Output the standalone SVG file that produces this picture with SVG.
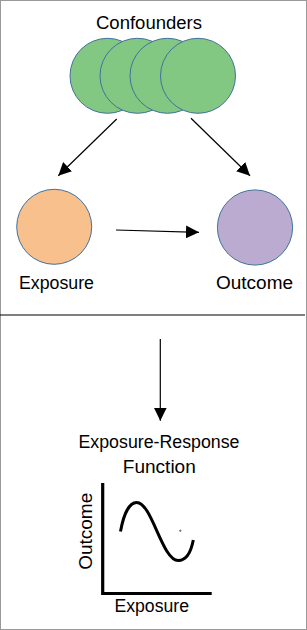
<svg xmlns="http://www.w3.org/2000/svg" width="307" height="630" viewBox="0 0 307 630">
<defs>
<style>
text{font-family:"Liberation Sans",Arial,sans-serif;font-size:18px;fill:#000;}
.node circle{stroke:#41719C;stroke-width:1;}
.conf{fill:#82C882;}
.conn line{stroke:#000;stroke-width:1.2;}
</style>
<marker id="ah" viewBox="0 0 10 10" refX="10" refY="5" markerWidth="13" markerHeight="13" markerUnits="userSpaceOnUse" orient="auto">
<path d="M0,0 L10,5 L0,10 Z" fill="#000"/>
</marker>
</defs>
<rect x="0.5" y="0.5" width="306" height="629" fill="#fff" stroke="#999" stroke-width="1"/>
<g id="confounders" class="node">
<text x="149" y="28.5" text-anchor="middle" textLength="106" lengthAdjust="spacingAndGlyphs">Confounders</text>
<circle class="conf" cx="107.5" cy="75.8" r="37.5"/>
<circle class="conf" cx="137.5" cy="75.8" r="37.5"/>
<circle class="conf" cx="167.5" cy="75.8" r="37.5"/>
<circle class="conf" cx="198" cy="75.8" r="37.5"/>
</g>
<g id="exposure" class="node">
<circle cx="54.2" cy="226.8" r="37.5" fill="#F8C08C"/>
<text x="56.5" y="288.5" text-anchor="middle" textLength="75" lengthAdjust="spacingAndGlyphs">Exposure</text>
</g>
<g id="outcome" class="node">
<circle cx="255" cy="227.5" r="37.6" fill="#BCABD1"/>
<text x="254.5" y="288.5" text-anchor="middle" textLength="77" lengthAdjust="spacingAndGlyphs">Outcome</text>
</g>
<g id="erf" class="node">
<text x="159" y="447.7" text-anchor="middle" textLength="161" lengthAdjust="spacingAndGlyphs">Exposure-Response</text>
<text x="159.3" y="473.3" text-anchor="middle" textLength="73" lengthAdjust="spacingAndGlyphs">Function</text>
<path d="M102.7,483 V593.5 H211.7" fill="none" stroke="#000" stroke-width="3.2"/>
<path d="M120.5,531.5 C124,512 130,502.5 136.7,502.5 C152,502.5 162,560.5 178.3,560.5 C186,560.5 191,552 193.3,540" fill="none" stroke="#000" stroke-width="3"/>
<circle cx="180.3" cy="530.7" r="0.7" fill="#D08A60"/>
<text transform="translate(91.5,531.3) rotate(-90)" text-anchor="middle" textLength="77" lengthAdjust="spacingAndGlyphs">Outcome</text>
<text x="151.7" y="611.7" text-anchor="middle" textLength="74.5" lengthAdjust="spacingAndGlyphs">Exposure</text>
</g>
<g id="connectors" class="conn">
<line x1="116.7" y1="119" x2="58.3" y2="175.7" marker-end="url(#ah)"/>
<line x1="191" y1="118.3" x2="250" y2="175.7" marker-end="url(#ah)"/>
<line x1="116" y1="230" x2="199" y2="232.3" marker-end="url(#ah)"/>
<line x1="160.3" y1="339" x2="160.3" y2="420.7" marker-end="url(#ah)"/>
</g>
<line id="divider" x1="0" y1="315" x2="305" y2="315" stroke="#000" stroke-width="1.2"/>
</svg>
